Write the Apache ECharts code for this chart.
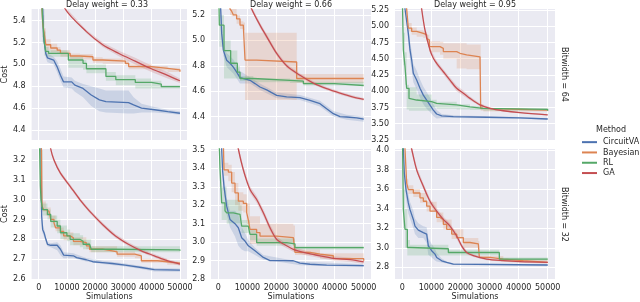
<!DOCTYPE html>
<html><head><meta charset="utf-8">
<script src="https://cdn.jsdelivr.net/npm/echarts@6/dist/echarts.min.js"></script>
<style>html,body{margin:0;padding:0;background:#fff}#c{width:640px;height:302px}</style>
</head><body><div id="c"></div>
<script>
const methods = ['CircuitVAE', 'Bayesian', 'RL', 'GA'];
const colTitles = ['Delay weight = 0.33', 'Delay weight = 0.66', 'Delay weight = 0.95'];
const rowTitles = ['Bitwidth = 64', 'Bitwidth = 32'];
const xTicks = [0, 10000, 20000, 30000, 40000, 50000];
const xRange = [-2500, 52500];
const yTicks = [
  [4.4, 4.6, 4.8, 5.0, 5.2, 5.4],
  [4.2, 4.4, 4.6, 4.8, 5.0, 5.2],
  [3.25, 3.5, 3.75, 4.0, 4.25, 4.5, 4.75, 5.0, 5.25],
  [2.6, 2.7, 2.8, 2.9, 3.0, 3.1, 3.2],
  [2.8, 2.9, 3.0, 3.1, 3.2, 3.3, 3.4, 3.5],
  [2.8, 3.0, 3.2, 3.4, 3.6, 3.8, 4.0]
];
const yDecimals = [1, 1, 2, 1, 1, 1];
const yRanges = [[4.308, 5.507], [4.216, 5.247], [3.25, 5.265], [2.60, 3.255], [2.80, 3.505], [2.681, 4.010]];

// ---- Panel 1 (0.33 / 64)
const vae1 = [[1300,5.60],[1725,5.25],[2500,5.10],[3100,5.06],[5300,5.04],[6500,4.98],[7700,4.90],[8800,4.84],[11700,4.84],[12800,4.81],[15700,4.78],[18600,4.72],[21500,4.675],[23800,4.66],[31800,4.65],[33600,4.63],[36400,4.60],[41000,4.585],[45700,4.568],[50000,4.553]];
const vae1Band = [[1725,5.21,5.30],[2500,5.06,5.14],[3100,5.02,5.10],[5300,5.00,5.07],[6500,4.93,5.03],[7700,4.85,4.96],[8800,4.79,4.89],[11700,4.78,4.88],[12800,4.75,4.85],[15700,4.70,4.82],[18600,4.62,4.80],[21500,4.57,4.78],[23800,4.56,4.76],[31800,4.55,4.76],[33600,4.55,4.70],[36400,4.56,4.64],[41000,4.56,4.61],[45700,4.55,4.585],[50000,4.54,4.57]];
const bay1 = [[1000,5.60],[1400,5.38],[1950,5.285],[2530,5.18],[4250,5.15],[6550,5.13],[7700,5.10],[11150,5.077],[14600,5.07],[19200,5.04],[22650,5.03],[30700,5.01],[31850,4.98],[39900,4.964],[45650,4.95],[50000,4.933]];
const bay1Band = [[1400,5.25,5.45],[1950,5.2,5.33],[2530,5.13,5.23],[4250,5.11,5.19],[6550,5.10,5.16],[7700,5.07,5.13],[11150,5.05,5.10],[14600,5.045,5.095],[19200,5.015,5.065],[22650,5.005,5.055],[30700,4.99,5.035],[31850,4.955,5.005],[39900,4.945,4.985],[45650,4.93,4.97],[50000,4.915,4.95]];
const rl1 = [[1000,5.60],[1380,5.42],[2000,5.20],[2500,5.12],[3500,5.10],[10500,5.04],[15700,5.01],[16900,4.96],[23800,4.89],[27300,4.86],[34200,4.835],[39900,4.82],[43400,4.796],[50000,4.79]];
const rl1Band = [[1380,5.2,5.55],[2000,5.08,5.3],[2500,5.07,5.16],[3500,5.07,5.13],[10500,4.97,5.07],[15700,4.95,5.04],[16900,4.92,5.00],[23800,4.85,4.93],[27300,4.81,4.90],[34200,4.78,4.87],[39900,4.78,4.85],[43400,4.78,4.81],[50000,4.775,4.80]];
const ga1 = [[3000,5.90],[9400,5.507],[16900,5.30],[22650,5.18],[28400,5.10],[34150,5.03],[39900,4.96],[45650,4.90],[50000,4.85]];
const ga1Band = [[9400,5.49,5.525],[16900,5.285,5.315],[22650,5.16,5.20],[28400,5.075,5.125],[34150,5.00,5.06],[39900,4.93,4.99],[45650,4.87,4.93],[50000,4.83,4.87]];

// ---- Panel 2 (0.66 / 64)
const vae2 = [[700,5.50],[823,5.25],[1167,5.055],[1740,4.923],[2885,4.844],[4030,4.82],[5177,4.79],[6323,4.75],[7468,4.707],[10906,4.686],[12625,4.66],[14343,4.633],[16635,4.61],[20072,4.567],[23510,4.555],[28093,4.55],[31530,4.528],[34968,4.502],[37260,4.462],[39551,4.423],[41843,4.40],[44134,4.397],[47571,4.39],[50000,4.38]];
const vae2Band = [[823,5.2,5.3],[1740,4.88,4.98],[2885,4.79,4.90],[5177,4.74,4.85],[7468,4.66,4.76],[10906,4.66,4.71],[14343,4.61,4.66],[20072,4.545,4.59],[28093,4.53,4.57],[34968,4.48,4.525],[39551,4.40,4.445],[44134,4.375,4.415],[50000,4.36,4.40]];
const bay2 = [[3000,5.40],[4030,5.247],[4600,5.23],[5200,5.20],[6300,5.17],[7470,5.12],[8600,5.11],[9200,4.845],[13200,4.83],[26950,4.70],[50000,4.70]];
const bay2Band = [[4030,5.20,5.30],[4600,5.19,5.26],[6300,5.13,5.20],[7470,5.09,5.15],[8600,5.08,5.14],[9200,4.53,5.06],[26950,4.665,4.735],[50000,4.665,4.735]];
const rl2 = [[0,5.60],[365,5.12],[1970,4.92],[4260,4.82],[6550,4.75],[7470,4.70],[12050,4.686],[24650,4.68],[29240,4.66],[40000,4.645],[50000,4.64]];
const rl2Band = [[365,4.95,5.20],[1970,4.70,5.00],[4260,4.70,4.92],[6550,4.70,4.80],[7470,4.68,4.72],[12050,4.67,4.70],[24650,4.665,4.695],[29240,4.645,4.675],[50000,4.63,4.65]];
const ga2 = [[9000,5.40],[11480,5.247],[14343,5.12],[16635,5.03],[20072,4.897],[23510,4.80],[28093,4.725],[32676,4.664],[37260,4.62],[41843,4.585],[46426,4.554],[50000,4.536]];
const ga2Band = [[11480,5.23,5.265],[14343,5.10,5.14],[16635,5.01,5.05],[20072,4.88,4.915],[23510,4.785,4.815],[28093,4.71,4.74],[32676,4.65,4.678],[37260,4.607,4.633],[41843,4.572,4.598],[46426,4.542,4.566],[50000,4.525,4.547]];

// ---- Panel 3 (0.95 / 64)
const vae3 = [[800,5.50],[937,5.265],[1281,5.25],[2083,4.89],[2656,4.635],[3229,4.48],[3802,4.276],[4948,4.173],[6093,4.045],[7239,3.94],[8385,3.865],[9530,3.788],[10676,3.71],[11822,3.65],[13541,3.62],[17551,3.61],[29009,3.60],[40467,3.59],[50000,3.573]];
const vae3Band = [[1281,5.15,5.30],[2083,4.75,5.0],[2656,4.48,4.78],[3229,4.33,4.62],[3802,4.14,4.42],[4948,4.03,4.32],[6093,3.90,4.18],[7239,3.80,4.07],[8385,3.73,3.99],[9530,3.68,3.90],[10676,3.62,3.80],[11822,3.58,3.71],[13541,3.59,3.65],[17551,3.59,3.63],[29009,3.585,3.615],[40467,3.575,3.605],[50000,3.56,3.585]];
const bay3 = [[1000,5.50],[1510,5.265],[2083,4.97],[3229,4.92],[4948,4.89],[7239,4.87],[8385,4.81],[8958,4.79],[9300,4.686],[12970,4.66],[14110,4.61],[18700,4.584],[19840,4.56],[22130,4.53],[26720,4.51],[26950,3.737],[27870,3.71],[50000,3.70]];
const bay3Band = [[2083,4.92,5.05],[3229,4.87,4.98],[4948,4.84,4.94],[7239,4.82,4.92],[8385,4.76,4.87],[9300,4.60,4.77],[12970,4.56,4.76],[14110,4.50,4.74],[18700,4.35,4.74],[22130,4.34,4.72],[26720,4.34,4.72],[26950,3.70,3.80],[27870,3.69,3.73],[50000,3.685,3.715]];
const rl3 = [[0,5.50],[363,4.635],[937,4.38],[1510,4.045],[2312,3.89],[2656,3.865],[4948,3.84],[10104,3.814],[11822,3.79],[18700,3.76],[23280,3.737],[27870,3.72],[50000,3.70]];
const rl3Band = [[363,4.4,4.9],[937,4.1,4.6],[1510,3.72,4.1],[2312,3.70,4.06],[4948,3.70,3.95],[10104,3.75,3.87],[11822,3.73,3.84],[18700,3.72,3.80],[23280,3.71,3.77],[27870,3.70,3.74],[50000,3.69,3.71]];
const ga3 = [[5500,5.70],[6666,5.265],[7812,4.94],[9530,4.635],[10676,4.507],[11822,4.43],[14114,4.30],[16405,4.17],[18697,4.045],[20988,3.97],[23280,3.89],[26717,3.79],[30155,3.737],[34738,3.70],[40467,3.67],[50000,3.635]];
const ga3Band = [[6666,5.22,5.30],[7812,4.90,4.98],[9530,4.60,4.67],[11822,4.39,4.47],[14114,4.26,4.34],[16405,4.13,4.21],[18697,4.00,4.09],[20988,3.93,4.01],[23280,3.86,3.92],[26717,3.77,3.81],[30155,3.72,3.755],[34738,3.69,3.71],[40467,3.66,3.68],[50000,3.625,3.645]];

// ---- Panel 4 (0.33 / 32)
const vae4 = [[700,3.50],[823,3.255],[1052,2.917],[1396,2.85],[1969,2.83],[2542,2.80],[3115,2.775],[4260,2.77],[6552,2.77],[7698,2.75],[8844,2.72],[12281,2.717],[13427,2.708],[16865,2.697],[19156,2.687],[22594,2.683],[26031,2.678],[30615,2.67],[36344,2.658],[40927,2.647],[50000,2.645]];
const vae4Band = [[1052,2.88,2.96],[1396,2.83,2.88],[1969,2.81,2.85],[2542,2.785,2.815],[3115,2.765,2.785],[4260,2.76,2.78],[6552,2.745,2.785],[7698,2.72,2.77],[8844,2.705,2.735],[12281,2.705,2.73],[16865,2.688,2.706],[22594,2.675,2.692],[30615,2.663,2.678],[36344,2.65,2.666],[40927,2.638,2.655],[50000,2.637,2.653]];
const bay4 = [[800,3.50],[1167,2.967],[1739,2.95],[2541,2.94],[3687,2.93],[4260,2.90],[5406,2.883],[5979,2.858],[7698,2.84],[8843,2.817],[11135,2.808],[12281,2.79],[14572,2.783],[16864,2.767],[18010,2.75],[22593,2.742],[26030,2.737],[27749,2.725],[34051,2.717],[36343,2.692],[42072,2.687],[45509,2.68],[50000,2.678]];
const bay4Band = [[1167,2.94,2.99],[2541,2.92,2.96],[4260,2.885,2.92],[5979,2.84,2.875],[7698,2.82,2.86],[8843,2.795,2.835],[12281,2.77,2.81],[16864,2.75,2.785],[18010,2.735,2.765],[27749,2.712,2.738],[34051,2.705,2.73],[36343,2.682,2.702],[45509,2.672,2.688],[50000,2.67,2.686]];
const rl4 = [[0,3.50],[593,3.067],[823,3.00],[1396,2.95],[3114,2.925],[4260,2.89],[6551,2.867],[7697,2.833],[9989,2.817],[11135,2.80],[14572,2.79],[15718,2.775],[18010,2.767],[18583,2.75],[26030,2.747],[50000,2.742]];
const rl4Band = [[593,2.95,3.25],[1396,2.92,2.98],[3114,2.90,2.95],[4260,2.86,2.92],[6551,2.83,2.90],[7697,2.80,2.87],[9989,2.79,2.85],[11135,2.77,2.83],[14572,2.76,2.82],[15718,2.75,2.80],[18583,2.735,2.765],[50000,2.73,2.755]];
const ga4 = [[2000,3.45],[4260,3.255],[5406,3.20],[7698,3.133],[11135,3.067],[14572,3.00],[18010,2.942],[22593,2.875],[27176,2.817],[31759,2.775],[36343,2.742],[40926,2.717],[45509,2.692],[50000,2.675]];
const ga4Band = [[4260,3.245,3.265],[5406,3.19,3.21],[7698,3.123,3.143],[11135,3.057,3.077],[14572,2.99,3.01],[18010,2.932,2.952],[22593,2.865,2.885],[27176,2.807,2.827],[31759,2.765,2.785],[36343,2.733,2.751],[40926,2.708,2.726],[45509,2.683,2.701],[50000,2.667,2.683]];

// ---- Panel 5 (0.66 / 32)
const vae5 = [[1000,3.70],[1167,3.505],[1510,3.383],[1969,3.30],[2885,3.195],[4031,3.123],[5750,3.10],[6896,3.078],[8042,3.024],[9187,3.006],[10333,2.98],[12625,2.953],[15489,2.917],[17781,2.90],[22364,2.90],[25801,2.899],[28093,2.886],[31530,2.88],[37259,2.875],[50000,2.872]];
const vae5Band = [[1510,3.35,3.42],[2885,3.15,3.24],[4031,3.08,3.17],[5750,3.03,3.17],[6896,2.98,3.15],[8042,2.96,3.08],[9187,2.95,3.05],[10333,2.95,3.01],[12625,2.93,2.97],[15489,2.905,2.93],[22364,2.89,2.91],[28093,2.875,2.895],[50000,2.865,2.88]];
const bay5 = [[1500,3.70],[1969,3.392],[3458,3.38],[4604,3.32],[5750,3.267],[6896,3.222],[8614,3.21],[9760,3.16],[10333,3.12],[10906,3.069],[13198,3.051],[14343,3.033],[20072,3.024],[25801,3.015],[26374,2.944],[31530,2.935],[34968,2.926],[39551,2.91],[50000,2.899]];
const bay5Band = [[1969,3.36,3.43],[3458,3.33,3.42],[4604,3.27,3.38],[5750,3.20,3.32],[6896,3.17,3.27],[8614,3.16,3.26],[9760,3.10,3.21],[10906,2.99,3.14],[14343,2.99,3.10],[25801,2.99,3.09],[26374,2.93,2.96],[34968,2.91,2.94],[50000,2.89,2.91]];
const rl5 = [[0,3.70],[594,3.40],[1167,3.213],[2313,3.17],[2885,3.159],[5177,3.15],[7469,3.14],[8042,3.087],[10333,3.08],[10906,3.042],[13198,2.997],[23510,2.99],[26374,2.97],[50000,2.97]];
const rl5Band = [[1167,3.12,3.30],[2885,3.10,3.23],[7469,3.10,3.20],[8042,3.05,3.12],[10906,3.01,3.07],[13198,2.98,3.02],[26374,2.96,2.98],[50000,2.96,2.98]];
const ga5 = [[4000,3.75],[6896,3.505],[8614,3.392],[10906,3.285],[13198,3.231],[15489,3.159],[17781,3.078],[20072,3.015],[22364,2.99],[25801,2.961],[30385,2.94],[34968,2.926],[39551,2.912],[45280,2.905],[50000,2.893]];
const ga5Band = [[6896,3.49,3.52],[8614,3.375,3.41],[10906,3.267,3.303],[13198,3.213,3.25],[15489,3.14,3.178],[17781,3.06,3.096],[20072,3.0,3.03],[22364,2.976,3.004],[25801,2.948,2.974],[30385,2.928,2.952],[34968,2.914,2.938],[39551,2.9,2.924],[45280,2.893,2.917],[50000,2.882,2.904]];

// ---- Panel 6 (0.95 / 32)
const vae6 = [[200,4.30],[364,4.01],[708,3.764],[1281,3.594],[2083,3.459],[2656,3.39],[3801,3.29],[4374,3.222],[5520,3.18],[7239,3.155],[8385,3.14],[8958,3.02],[10103,2.97],[11249,2.935],[11822,2.90],[13541,2.867],[15259,2.85],[17551,2.834],[50000,2.824]];
const vae6Band = [[708,3.7,3.85],[1281,3.50,3.68],[2083,3.35,3.55],[2656,3.30,3.47],[3801,3.20,3.38],[4374,3.14,3.30],[5520,3.10,3.25],[7239,3.10,3.22],[8385,3.05,3.21],[8958,2.93,3.10],[10103,2.90,3.04],[11249,2.87,2.99],[11822,2.86,2.95],[13541,2.85,2.89],[15259,2.84,2.86],[17551,2.825,2.843],[50000,2.815,2.833]];
const bay6 = [[600,4.30],[937,4.01],[1510,3.662],[2083,3.594],[3801,3.56],[6093,3.51],[7239,3.476],[8385,3.425],[9530,3.374],[11822,3.31],[12968,3.29],[14114,3.24],[15259,3.189],[16978,3.14],[18697,3.105],[20988,3.054],[23280,3.04],[26144,3.02],[26489,2.902],[30155,2.885],[34738,2.868],[41613,2.85],[50000,2.844]];
const bay6Band = [[1510,3.62,3.70],[2083,3.55,3.64],[3801,3.52,3.60],[6093,3.46,3.56],[8385,3.37,3.47],[11822,3.26,3.36],[14114,3.19,3.29],[16978,3.09,3.19],[20988,3.00,3.10],[26144,2.97,3.07],[26489,2.89,2.915],[34738,2.857,2.88],[50000,2.834,2.855]];
const rl6 = [[0,4.30],[364,3.39],[937,3.189],[1739,3.003],[2656,2.99],[15832,2.952],[33362,2.884],[50000,2.884]];
const rl6Band = [[364,3.2,3.6],[937,3.0,3.4],[1739,2.92,3.08],[2656,2.92,3.03],[15832,2.92,2.98],[33362,2.87,2.90],[50000,2.87,2.895]];
const ga6 = [[1500,4.25],[3229,4.01],[4947,3.797],[7239,3.628],[9530,3.476],[11822,3.374],[14114,3.29],[16405,3.222],[18697,3.121],[20416,3.02],[22134,2.952],[24426,2.92],[29009,2.884],[34738,2.868],[40467,2.858],[50000,2.85]];
const ga6Band = [[3229,3.98,4.04],[4947,3.77,3.83],[7239,3.60,3.66],[9530,3.445,3.505],[11822,3.345,3.405],[14114,3.26,3.32],[16405,3.19,3.25],[18697,3.09,3.15],[20416,2.995,3.045],[22134,2.935,2.97],[24426,2.905,2.935],[29009,2.872,2.896],[34738,2.858,2.878],[40467,2.848,2.868],[50000,2.84,2.86]];

const panels = [
  [vae1, bay1, rl1, ga1, vae1Band, bay1Band, rl1Band, ga1Band],
  [vae2, bay2, rl2, ga2, vae2Band, bay2Band, rl2Band, ga2Band],
  [vae3, bay3, rl3, ga3, vae3Band, bay3Band, rl3Band, ga3Band],
  [vae4, bay4, rl4, ga4, vae4Band, bay4Band, rl4Band, ga4Band],
  [vae5, bay5, rl5, ga5, vae5Band, bay5Band, rl5Band, ga5Band],
  [vae6, bay6, rl6, ga6, vae6Band, bay6Band, rl6Band, ga6Band]
];

// ---- styling
const colors = ['#4C72B0', '#DD8452', '#55A868', '#C44E52'];
const bandColors = ['rgba(76,114,176,0.2)', 'rgba(221,132,82,0.2)', 'rgba(85,168,104,0.2)', 'rgba(196,78,82,0.2)'];
const stepped = [false, true, true, false];
const FONT = 'DejaVu Sans';
const TXT = '#262626';
const gridLeft = [27, 211, 395];
const gridTop = [9, 149];
const GW = 160, GH = 131;

const grids = [], xAxes = [], yAxes = [], series = [];
for (let p = 0; p < 6; p++) {
  const col = p % 3, row = Math.floor(p / 3);
  grids.push({left: gridLeft[col], top: gridTop[row], width: GW, height: GH,
    show: true, backgroundColor: '#EAEAF2', borderWidth: 0});
  xAxes.push({type: 'value', gridIndex: p, min: xRange[0], max: xRange[1],
    axisLine: {show: false}, axisTick: {show: false, customValues: xTicks},
    axisLabel: {show: row === 1, customValues: xTicks, color: TXT, fontFamily: FONT, fontSize: 8, margin: 5,
      formatter: v => String(Math.round(v))},
    splitLine: {show: true, lineStyle: {color: '#ffffff', width: 1}},
    name: (row === 1 ? 'Simulations' : ''), nameLocation: 'middle', nameGap: 14,
    nameTextStyle: {color: TXT, fontFamily: FONT, fontSize: 8}});
  const dec = yDecimals[p];
  yAxes.push({type: 'value', gridIndex: p, min: yRanges[p][0], max: yRanges[p][1],
    axisLine: {show: false}, axisTick: {show: false, customValues: yTicks[p]},
    axisLabel: {customValues: yTicks[p], color: TXT, fontFamily: FONT, fontSize: 8, margin: 6,
      formatter: v => v.toFixed(dec)},
    splitLine: {show: true, lineStyle: {color: '#ffffff', width: 1}},
    name: (col === 0 ? 'Cost' : ''), nameLocation: 'middle', nameGap: 16,
    nameTextStyle: {color: TXT, fontFamily: FONT, fontSize: 8}});
  const d = panels[p];
  for (let m = 0; m < 4; m++) {
    const band = d[4 + m], st = stepped[m], fill = bandColors[m];
    series.push({type: 'custom', xAxisIndex: p, yAxisIndex: p, clip: true, silent: true, z: 1,
      animation: false,
      data: [[band[0][0], band[0][1]]],
      renderItem: function (params, api) {
        const up = [], lo = [];
        for (let i = 0; i < band.length; i++) {
          const b = band[i];
          if (st && i > 0) {
            up.push(api.coord([b[0], band[i - 1][2]]));
            lo.push(api.coord([b[0], band[i - 1][1]]));
          }
          up.push(api.coord([b[0], b[2]]));
          lo.push(api.coord([b[0], b[1]]));
        }
        return {type: 'polygon', shape: {points: up.concat(lo.reverse())}, style: {fill: fill}};
      }
    });
  }
  for (let m = 0; m < 4; m++) {
    series.push({type: 'line', name: methods[m], xAxisIndex: p, yAxisIndex: p, data: d[m],
      step: stepped[m] ? 'end' : false, symbol: 'none', showSymbol: false, clip: true,
      smooth: m === 3 ? 0.3 : false,
      lineStyle: {color: colors[m], width: 1.3}, itemStyle: {color: colors[m]}, z: 3 + m, animation: false});
  }
}

const graphics = [];
for (let c = 0; c < 3; c++) {
  graphics.push({type: 'text', x: gridLeft[c] + GW / 2, y: 4.5,
    style: {text: colTitles[c], fill: TXT, font: '8px "DejaVu Sans"', textAlign: 'center', textVerticalAlign: 'middle'}});
}
for (let r = 0; r < 2; r++) {
  graphics.push({type: 'text', x: 564, y: gridTop[r] + GH / 2, rotation: -Math.PI / 2,
    style: {text: rowTitles[r], fill: TXT, font: '8px "DejaVu Sans"', textAlign: 'center', textVerticalAlign: 'middle'}});
}
graphics.push({type: 'text', x: 611, y: 130,
  style: {text: 'Method', fill: TXT, font: '8px "DejaVu Sans"', textAlign: 'center', textVerticalAlign: 'middle'}});

const option = {
  animation: false,
  backgroundColor: '#ffffff',
  grid: grids, xAxis: xAxes, yAxis: yAxes, series: series,
  graphic: graphics,
  legend: {data: methods, orient: 'vertical', left: 582, top: 137, itemWidth: 15, itemHeight: 2,
    icon: 'rect', itemGap: 0, padding: 0,
    textStyle: {color: TXT, fontFamily: FONT, fontSize: 8, lineHeight: 10.3, padding: [0, 0, 0, 1]}}
};
const chart = echarts.init(document.getElementById('c'), null, {renderer: 'canvas'});
chart.setOption(option);
</script></body></html>
